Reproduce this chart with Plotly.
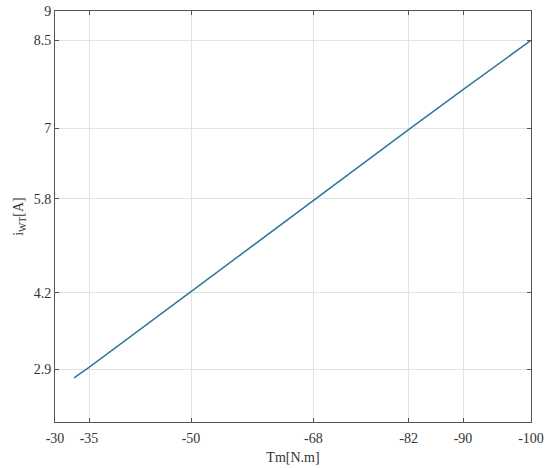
import plotly.graph_objects as go

# Torque [N.m] vs current i_WT [A]
torque = [-32.8, -35, -50, -68, -82, -90, -100]
current = [2.75, 2.93, 4.22, 5.78, 6.98, 7.66, 8.5]

x_ticks = [-30, -35, -50, -68, -82, -90, -100]
y_ticks = [2.9, 4.2, 5.8, 7, 8.5, 9]

font = dict(family="Liberation Serif", size=14, color="#333333")

fig = go.Figure()
fig.add_trace(go.Scatter(x=torque, y=current, mode="lines",
                         line=dict(color="#2b7a98", width=1.5), showlegend=False))

axis_style = dict(showline=True, linecolor="#555555", linewidth=1, mirror="ticks",
                  ticks="inside", ticklen=4, tickcolor="#555555",
                  showgrid=True, gridcolor="#e3e3e3", gridwidth=1,
                  zeroline=False, tickfont=font, automargin=False)

fig.update_xaxes(range=[-30, -100], tickvals=x_ticks, ticktext=[str(v) for v in x_ticks],
                 ticklabelstandoff=3,
                 title=dict(text="Tm[N.m]", font=font, standoff=7), **axis_style)
fig.update_yaxes(range=[2, 9], tickvals=y_ticks, ticktext=[str(v) for v in y_ticks],
                 title=dict(text="i<sub>WT</sub>[A]", font=font, standoff=6), **axis_style)

fig.update_layout(width=550, height=468, margin=dict(l=55, r=19, t=11, b=46),
                  plot_bgcolor="white", paper_bgcolor="white", font=font)

fig.write_html("out.html", config={"displayModeBar": False},
               post_script="document.body.style.margin='0';")
